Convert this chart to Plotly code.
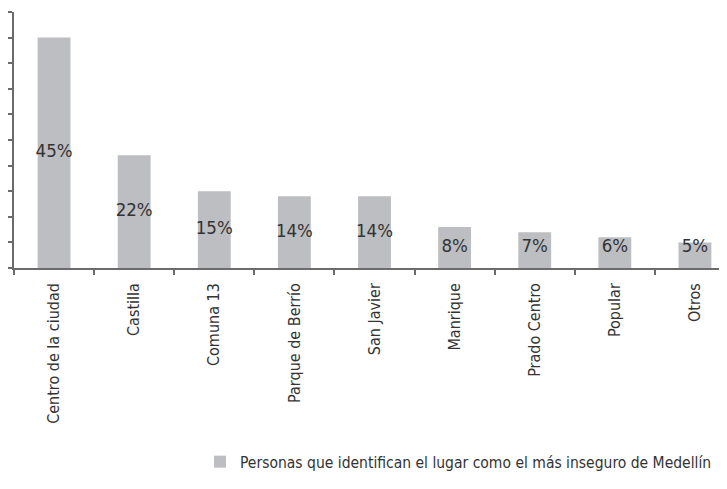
import plotly.graph_objects as go

categories = ["Centro de la ciudad", "Castilla", "Comuna 13", "Parque de Berrío",
              "San Javier", "Manrique", "Prado Centro", "Popular", "Otros"]
values = [45, 22, 15, 14, 14, 8, 7, 6, 5]
labels = ["45%", "22%", "15%", "14%", "14%", "8%", "7%", "6%", "5%"]
series_name = "Personas que identifican el lugar como el más inseguro de Medellín"

FONT = "DejaVu Sans Condensed, Liberation Sans Narrow, sans-serif"
BAR = "#bdbec1"
AX = "#6b6b6b"
TXT = "#333333"

fig = go.Figure()
fig.add_trace(go.Bar(
    x=categories, y=values, name=series_name,
    marker=dict(color=BAR, line=dict(width=0)),
    width=0.41, showlegend=True,
))
# data labels, centred in bars (kept above the axis for short bars)
fig.add_trace(go.Scatter(
    x=categories, y=[max(v / 2, 4.0) for v in values], text=labels,
    mode="text", textposition="middle center",
    textfont=dict(family=FONT, size=18.5, color=TXT),
    showlegend=False, hoverinfo="skip",
))

fig.update_layout(
    width=727, height=489,
    margin=dict(l=6, r=0, t=4, b=0, autoexpand=False),
    paper_bgcolor="white", plot_bgcolor="white",
    font=dict(family=FONT, color=TXT, size=16),
    legend=dict(orientation="h", x=0.258, xanchor="left", y=0.072, yanchor="middle",
                font=dict(family=FONT, size=15.5, color=TXT), itemwidth=30),
)
fig.update_xaxes(
    range=[-0.5, 8.5], showline=True, linecolor=AX, linewidth=1.5,
    ticks="outside", ticklen=5, tickcolor=AX, tickwidth=1.5, tickson="boundaries",
    tickangle=-90, tickfont=dict(family=FONT, size=16, color=TXT), ticklabelstandoff=7,
    showgrid=False, zeroline=False, fixedrange=True, automargin=False,
)
fig.update_yaxes(
    domain=[229 / 485, 1],
    range=[0, 50], dtick=5, showline=True, linecolor=AX, linewidth=1.5,
    ticks="outside", ticklen=6, tickcolor=AX, tickwidth=1.5,
    showticklabels=False, showgrid=False, zeroline=False, automargin=False,
)

fig.write_html("out.html")
